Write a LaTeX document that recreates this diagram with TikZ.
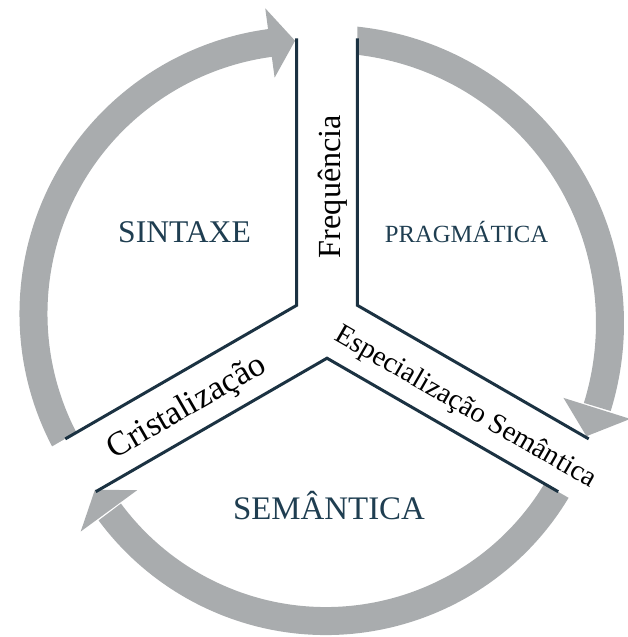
\documentclass[tikz,border=0pt]{standalone}
\usepackage{fontspec}
\setmainfont{Liberation Serif}
\usetikzlibrary{calc}
\definecolor{arcgray}{HTML}{A9ACAE}
\definecolor{rimline}{HTML}{1B3242}
\definecolor{titleblue}{HTML}{1F3E51}
\tikzset{
  band/.style={arcgray, line width=28},
  head/.style={fill=arcgray},
  rim/.style={rimline, line width=3, line join=miter},
  title/.style={text=titleblue, inner sep=0, anchor=base},
  process/.style={text=black, inner sep=0, anchor=base},
}
\newcommand{\fsz}[1]{\fontsize{#1}{#1}\selectfont}
\begin{document}
\begin{tikzpicture}[x=1pt,y=1pt]
\useasboundingbox (0,0) rectangle (627,637);
% centre of the Y-shaped channel and its corners
\coordinate (C) at (327,314);
\coordinate (UL) at ($(C)+(150:35.2)$);
\coordinate (UR) at ($(C)+(30:35.2)$);
\coordinate (B) at ($(C)+(270:35.2)$);
% centres of the three circular arrows
\coordinate (A1) at (306.5,323.5);
\coordinate (A2) at (326,314);
\coordinate (A3) at (326,285);

% arrow bodies
\draw[band] ($(A1)+(215:273)$) arc[start angle=215, end angle=97.4, radius=273];
\draw[band] ($(A2)+(90:284)$) arc[start angle=90, end angle=-17.2, radius=284];
\draw[band] ($(A3)+(-25:269)$) arc[start angle=-25, end angle=-143.5, radius=269];

% the channel cuts the bodies
\fill[white] ($(UL)+(90:420)$) -- (UL) -- ($(UL)+(210:420)$) -- ($(B)+(210:420)$)
  -- (B) -- ($(B)+(-30:420)$) -- ($(UR)+(-30:420)$) -- (UR) -- ($(UR)+(90:420)$) -- cycle;

% arrow heads
\fill[head] ($(A1)+(97.7:238)$) -- ($(A1)+(97.7:308)$) -- ($(A1)+(92.4:273)$) -- cycle;
\fill[head] ($(A2)+(-17.5:249)$) -- ($(A2)+(-17.5:319)$) -- ($(A2)+(-23.5:284)$) -- cycle;
\fill[head] ($(A3)+(216.2:234)$) -- ($(A3)+(216.2:304)$) -- ($(A3)+(210.8:269)$) -- cycle;

% channel borders
\coordinate (ULtop) at ($(UL)+(90:267)$);
\coordinate (URtop) at ($(UR)+(90:267)$);
\coordinate (ULend) at ($(UL)+(210:267)$);
\coordinate (Bleft) at ($(B)+(210:267)$);
\coordinate (Bright) at ($(B)+(-30:267)$);
\coordinate (URend) at ($(UR)+(-30:267)$);
\draw[rim] (ULtop) -- (UL) -- (ULend);
\draw[rim] (URtop) -- (UR) -- (URend);
\draw[rim] (Bleft) -- (B) -- (Bright);

% sector titles
\node[title, font=\fsz{31.6}] (sintaxe) at (184.5,394) {SINTAXE};
\node[title, font=\fsz{24.7}] (pragmatica) at (466.5,394) {PRAGMÁTICA};
\node[title, font=\fsz{32.9}] (semantica) at (329,117) {SEMÂNTICA};

% process labels inside the channel
\node[process, font=\fsz{32.2}, rotate=90] (freq) at (340,450.5) {Frequência};
\node[process, font=\fsz{34}, rotate=30] (crist) at (191.25,222) {Cristalização};
\node[process, font=\fsz{28.6}, rotate=-30] (espec) at (461.7,223.3) {Especialização Semântica};
\end{tikzpicture}
\end{document}
